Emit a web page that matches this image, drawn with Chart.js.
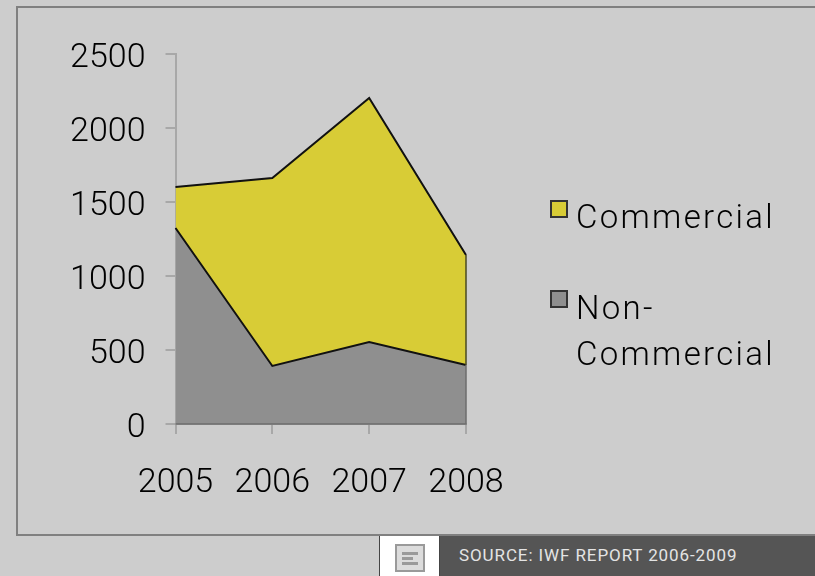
<!DOCTYPE html>
<html>
<head>
<meta charset="utf-8">
<script src="https://cdn.jsdelivr.net/npm/chart.js@4"></script>
<style>
html,body{margin:0;padding:0;width:815px;height:576px;overflow:hidden;background:#cdcdcd;font-family:Roboto,sans-serif}
#frame{position:absolute;left:16px;top:6px;width:900px;height:526px;border:2px solid #808080}
#wrap{position:absolute;left:0;top:0;width:815px;height:576px}
.lg{position:absolute;left:576px;font-size:33px;font-weight:300;line-height:46px;color:#000;letter-spacing:2.3px;width:235px}
.sw{position:absolute;left:550px;width:14px;height:14px;border:2px solid #333}
#foot{position:absolute;left:440px;top:536px;width:375px;height:40px;background:#555;color:#e4e4e4;font-size:17px;line-height:40px}
#foot span{position:absolute;left:19px;top:-1px;white-space:nowrap;letter-spacing:.9px}
#btn{position:absolute;left:379px;top:536px;width:61px;height:40px;background:#fff;box-sizing:border-box;border-left:1px solid #444;border-right:1px solid #444}
#ico{position:absolute;left:15px;top:8px;width:30px;height:28px;background:#dcdcdc;border:2px solid #9a9a9a;box-sizing:border-box}
#ico i{position:absolute;height:3px;background:#9a9a9a;left:5px}
</style>
</head>
<body>
<div id="frame"></div>
<div id="wrap"><canvas id="c" width="815" height="576"></canvas></div>
<div id="legend"></div>
<div id="btn"><div id="ico"><i style="top:6px;width:16px"></i><i style="top:11px;width:11px"></i><i style="top:16px;width:16px"></i></div></div>
<div id="foot"><span>SOURCE: IWF REPORT 2006-2009</span></div>
<script>
const years = ['2005','2006','2007','2008'];
const nonCommercial = [1324, 392, 554, 399];
const commercial = [277, 1270, 1649, 743];
const legendNames = ['Commercial', 'Non-\nCommercial'];
const colYellow = '#d8cc36';
const colGrey = '#8f8f8f';

const edgePlugin = {
  id:'edges',
  afterDatasetsDraw(chart){
    const {ctx, scales:{x,y}} = chart;
    const l = x.getPixelForValue(0), r = x.getPixelForValue(years.length-1);
    const last = years.length-1;
    ctx.save();
    ctx.strokeStyle='#6e6e6e'; ctx.lineWidth=1.5;
    ctx.beginPath();
    ctx.moveTo(l,y.getPixelForValue(0)); ctx.lineTo(r,y.getPixelForValue(0));
    ctx.lineTo(r,y.getPixelForValue(nonCommercial[last]));
    ctx.stroke();
    ctx.strokeStyle='#4a4a20';
    ctx.beginPath();
    ctx.moveTo(r,y.getPixelForValue(nonCommercial[last]));
    ctx.lineTo(r,y.getPixelForValue(nonCommercial[last]+commercial[last]));
    ctx.stroke();
    ctx.restore();
  }
};

Chart.defaults.animation=false;
new Chart(document.getElementById('c'),{
  type:'line',
  plugins:[edgePlugin],
  data:{labels:years,datasets:[
    {label:'Non-Commercial',data:nonCommercial,fill:'origin',backgroundColor:colGrey,borderColor:'#111',borderWidth:2,pointRadius:0,tension:0},
    {label:'Commercial',data:commercial,fill:'-1',backgroundColor:colYellow,borderColor:'#111',borderWidth:2,pointRadius:0,tension:0}
  ]},
  options:{
    responsive:false,
    layout:{padding:{left:0,top:54,right:349,bottom:0}},
    plugins:{legend:{display:false},tooltip:{enabled:false}},
    scales:{
      x:{
        offset:false,
        afterFit(s){s.height=152;},
        border:{color:'#a8a8a8',width:2},
        grid:{drawOnChartArea:false,color:'#a8a8a8',tickLength:10,lineWidth:2},
        ticks:{color:'#000',font:{family:'Roboto',size:34,weight:300},padding:29,maxRotation:0,autoSkip:false}
      },
      y:{
        stacked:true,min:0,max:2500,
        afterFit(s){s.width=175.5;},
        border:{color:'#a8a8a8',width:2},
        grid:{drawOnChartArea:false,color:'#a8a8a8',tickLength:10,lineWidth:2},
        ticks:{
          stepSize:500,color:'#000',
          font:{family:'Roboto',size:34,weight:300,lineHeight:8/34},
          padding:20,
          callback:v=>['',String(v)]
        }
      }
    }
  }
});

const lg = document.getElementById('legend');
const rows = [
  {name:legendNames[0],color:colYellow,box:200,text:194},
  {name:legendNames[1],color:colGrey,box:290,text:285}
];
rows.forEach(r=>{
  const sw=document.createElement('div');sw.className='sw';sw.style.top=r.box+'px';sw.style.background=r.color;lg.appendChild(sw);
  const t=document.createElement('div');t.className='lg';t.style.top=r.text+'px';t.innerHTML=r.name.replace('\n','<br>');lg.appendChild(t);
});
</script>
</body>
</html>
